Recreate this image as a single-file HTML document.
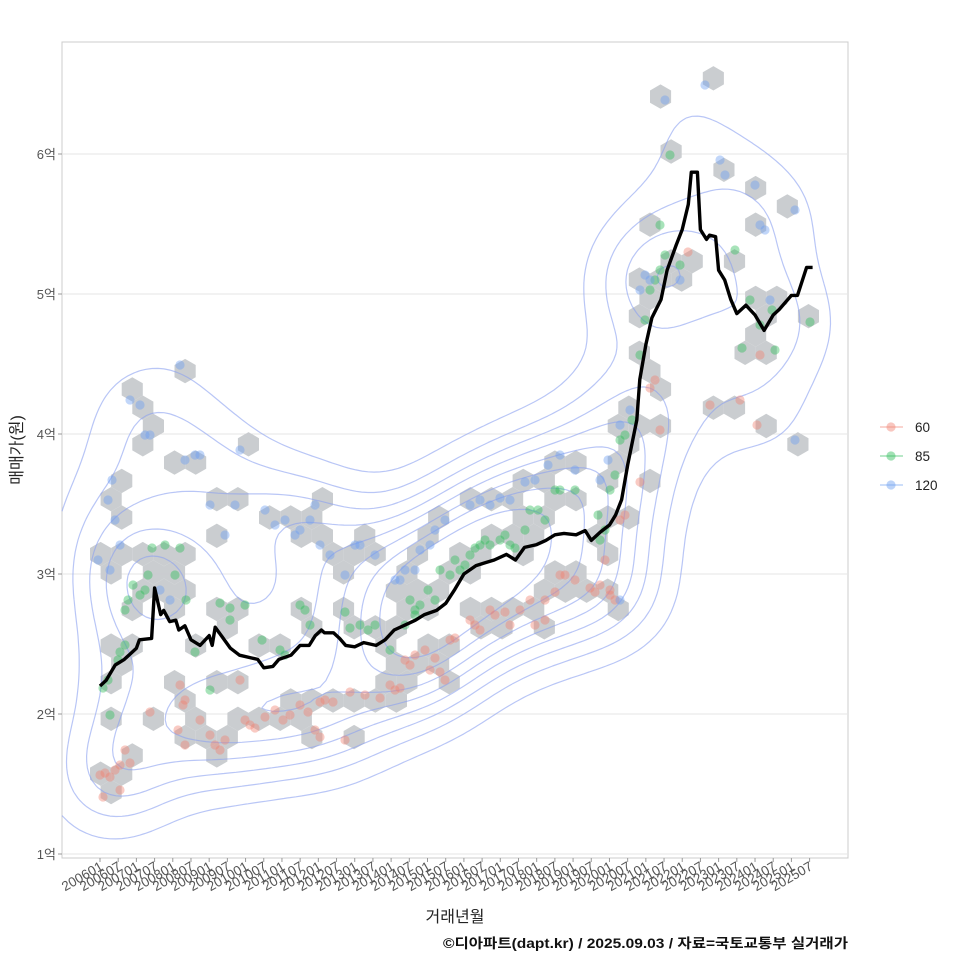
<!DOCTYPE html>
<html><head><meta charset="utf-8"><style>
html,body{margin:0;padding:0;background:#fff;}
svg{display:block;font-family:"Liberation Sans","Noto Sans CJK KR",sans-serif;}
</style></head><body>
<svg id="chart" width="960" height="960" viewBox="0 0 960 960">
<rect x="0" y="0" width="960" height="960" fill="#fff"/>
<rect x="62" y="42" width="786" height="816" fill="#fff" stroke="#cccccc" stroke-width="1"/>
<g id="grid"></g>
<g id="hexes"></g>
<g id="contours"></g>
<g id="points"></g>
<g id="line"></g>
<g id="yaxis"></g>
<g id="xaxis"></g>
<text x="22" y="450" transform="rotate(-90 22 450)" text-anchor="middle" font-size="16" fill="#222">매매가(원)</text>
<text x="455" y="922" text-anchor="middle" font-size="16" fill="#222">거래년월</text>
<text x="443" y="948" font-size="13.5" font-weight="bold" fill="#111" textLength="405" lengthAdjust="spacingAndGlyphs">©디아파트(dapt.kr) / 2025.09.03 / 자료=국토교통부 실거래가</text>
<g id="legend"></g>
</svg>
<script>
// ---- data ----
const yTicks = [1,2,3,4,5,6];
const yTickLabels = ["1억","2억","3억","4억","5억","6억"];
const xTickLabels = [];
for (let yr=2006; yr<=2025; yr++){ xTickLabels.push(yr+"01"); xTickLabels.push(yr+"07"); }
const lineMonths = [0,2,5,8,12,13,17,18,20,21,23,25,26,28,30,33,36,37,38,40,43,46,50,52,54,57,59,63,66,69,71,73,74,77,79,81,84,87,91,94,97,101,104,107,111,114,117,120,124,127,130,134,137,140,144,147,150,153,157,160,162,165,168,170,172,174,177,178,180,182,185,187,190,192,194,195,197,198,200,201,203,204,206,208,210,213,216,219,222,224,228,230,233,235];
const lineValues = [2.2,2.24,2.35,2.39,2.47,2.53,2.54,2.9,2.71,2.74,2.66,2.67,2.6,2.63,2.53,2.49,2.56,2.49,2.62,2.56,2.47,2.42,2.4,2.39,2.33,2.34,2.39,2.42,2.49,2.49,2.56,2.6,2.58,2.58,2.54,2.49,2.48,2.51,2.49,2.53,2.6,2.64,2.67,2.71,2.74,2.79,2.89,3.0,3.06,3.08,3.1,3.14,3.1,3.19,3.21,3.24,3.28,3.29,3.28,3.31,3.24,3.3,3.35,3.42,3.53,3.78,4.1,4.39,4.64,4.83,4.96,5.17,5.35,5.46,5.64,5.87,5.87,5.46,5.39,5.42,5.41,5.17,5.1,4.96,4.86,4.92,4.85,4.74,4.85,4.89,4.99,4.99,5.19,5.19];
const px60 = [[100,775],[105,773],[110,777],[115,770],[120,765],[125,750],[103,797],[120,790],[130,763],[150,712],[180,685],[185,700],[183,705],[185,745],[178,730],[200,720],[210,735],[215,745],[220,750],[225,740],[245,720],[250,725],[255,728],[240,680],[265,717],[275,710],[283,720],[290,715],[300,705],[308,712],[320,702],[325,700],[333,702],[315,730],[320,737],[345,740],[350,692],[365,695],[380,698],[390,685],[395,690],[400,688],[405,660],[410,665],[415,655],[425,650],[430,670],[435,658],[440,672],[450,640],[455,638],[445,680],[470,620],[475,625],[480,630],[490,610],[495,615],[505,612],[510,625],[520,610],[530,600],[535,625],[545,620],[545,600],[555,592],[560,575],[565,575],[575,580],[590,588],[595,592],[600,585],[605,560],[610,595],[615,600],[610,590],[620,520],[625,515],[640,482],[650,388],[655,380],[660,430],[688,252],[710,405],[740,400],[757,425],[760,355]];
const px85 = [[103,688],[108,680],[110,715],[118,660],[120,652],[125,645],[125,610],[128,600],[133,585],[140,595],[145,590],[148,575],[152,548],[165,545],[175,575],[180,548],[186,600],[195,652],[210,690],[220,603],[230,608],[245,605],[230,620],[262,640],[280,650],[285,655],[300,605],[305,610],[310,625],[345,612],[350,628],[360,625],[368,630],[375,625],[390,650],[405,625],[410,600],[415,610],[415,615],[420,605],[428,590],[435,600],[440,570],[450,575],[455,560],[460,570],[465,565],[470,555],[475,548],[480,545],[485,540],[490,545],[500,540],[505,535],[510,545],[515,548],[525,530],[530,510],[538,510],[545,520],[555,490],[560,490],[575,490],[598,515],[600,540],[605,530],[610,490],[615,475],[620,440],[625,435],[632,420],[640,355],[645,320],[650,290],[655,280],[660,270],[665,255],[670,155],[680,265],[735,250],[742,348],[750,300],[760,325],[772,310],[775,350],[810,322],[660,225]];
const px120 = [[98,560],[110,570],[115,520],[120,545],[112,480],[108,500],[130,400],[140,405],[145,435],[150,435],[160,590],[170,600],[180,365],[185,460],[195,455],[200,455],[210,505],[225,535],[235,505],[240,450],[265,510],[275,525],[285,520],[295,535],[300,530],[310,520],[315,505],[320,545],[330,555],[345,575],[355,545],[360,545],[375,555],[395,580],[400,580],[405,570],[415,570],[420,550],[430,545],[435,530],[445,520],[470,505],[480,500],[490,505],[500,498],[510,500],[525,482],[535,480],[548,465],[560,455],[575,470],[600,480],[608,460],[620,425],[630,410],[640,290],[645,275],[665,100],[680,280],[705,85],[720,160],[725,175],[755,185],[760,225],[765,230],[795,210],[795,440],[770,300],[620,600],[650,280]];

// ---- scales ----
const X0 = 100, DX = 3.0325;
const xs = m => X0 + m*DX;
const ys = v => 854 - (v-1)*140;
const toData = p => [(p[0]-X0)/DX, 1+(854-p[1])/140];
const series = [
  {name:"60", color:"#f08070", pts:px60.map(toData)},
  {name:"85", color:"#2ebd58", pts:px85.map(toData)},
  {name:"120", color:"#6b9df0", pts:px120.map(toData)}
];
const NS = "http://www.w3.org/2000/svg";
function mk(tag, attrs, parent){ const e=document.createElementNS(NS,tag); for(const k in attrs) e.setAttribute(k,attrs[k]); parent.appendChild(e); return e; }

// grid + y axis
const gGrid=document.getElementById('grid'), gY=document.getElementById('yaxis');
yTicks.forEach((t,i)=>{
  const l=mk('line',{x1:62,x2:848,y1:ys(t),y2:ys(t),stroke:'#e6e6e6','stroke-width':1},gGrid);
  
  
  const tk=mk('line',{x1:58,x2:62,y1:ys(t),y2:ys(t),stroke:'#999'},gY);
  
  
  const tx=mk('text',{x:56,y:ys(t)+5,'text-anchor':'end','font-size':13,fill:'#555'},gY);
  tx.textContent=yTickLabels[i];
  
  
});
// x axis
const gX=document.getElementById('xaxis');
xTickLabels.forEach((lab,i)=>{
  const x=xs(i*6);
  const tk=mk('line',{x1:x,x2:x,y1:858,y2:862,stroke:'#999'},gX);
  
  
  const tx=mk('text',{x:x+4,y:869,'text-anchor':'end','font-size':13.5,fill:'#555',transform:`rotate(-30 ${x+4} 869)`},gX);
  tx.textContent=lab;
  
  
});

// hexbins
const all=[]; series.forEach(s=>s.pts.forEach(p=>all.push([xs(p[0]),ys(p[1])])));
const R=12.2, HW=R*Math.sqrt(3), VH=R*1.5, HX0=90, HY0=60;
const bins={};
all.forEach(([x,y])=>{
  const r=Math.round((y-HY0)/VH);
  let best=null,bd=1e9;
  for(let rr=r-1; rr<=r+1; rr++){
    const off=(Math.abs(rr)%2)?HW/2:0;
    const c=Math.round((x-HX0-off)/HW);
    for(let cc=c-1;cc<=c+1;cc++){
      const cx=HX0+off+cc*HW, cy=HY0+rr*VH, d=(cx-x)**2+(cy-y)**2;
      if(d<bd){bd=d;best=[rr,cc,cx,cy];}
    }
  }
  const k=best[0]+','+best[1];
  if(!bins[k]) bins[k]={cx:best[2],cy:best[3],n:0};
  bins[k].n++;
});
const gH=document.getElementById('hexes');
Object.values(bins).forEach(b=>{
  let pts=[];
  for(let i=0;i<6;i++){const a=Math.PI/180*(60*i-90); pts.push((b.cx+R*Math.cos(a)).toFixed(1)+','+(b.cy+R*Math.sin(a)).toFixed(1));}
  const h=mk('polygon',{points:pts.join(' '),fill:b.n>=5?'#cdd9e4':'#c7cacd','fill-opacity':0.95},gH);
  
  
});

// KDE contours
(function(){
  const G=6, nx=Math.ceil(786/G)+1, ny=Math.ceil(816/G)+1, bx=46, by=44;
  const z=[]; let zmax=0;
  for(let j=0;j<ny;j++){ z.push([]); for(let i=0;i<nx;i++){
    const x=62+i*G, y=42+j*G; let s=0;
    for(const p of all){const dx=(x-p[0])/bx, dy=(y-p[1])/by; const q=dx*dx+dy*dy; if(q<16) s+=Math.exp(-0.5*q);}
    z[j].push(s); if(s>zmax) zmax=s; } }
  const gC=document.getElementById('contours');
  const levels=[0.12,0.22,0.32,0.42,0.52,0.62,0.72,0.82];
  levels.forEach(f=>{
    const L=f*zmax; let d='';
    for(let j=0;j<ny-1;j++){
      for(let i=0;i<nx-1;i++){
        const v=[z[j][i],z[j][i+1],z[j+1][i+1],z[j+1][i]];
        const P=[[i,j],[i+1,j],[i+1,j+1],[i,j+1]];
        const cr=[];
        for(let e=0;e<4;e++){const a=v[e],b=v[(e+1)%4]; if((a<L)!==(b<L)){const t=(L-a)/(b-a); const pa=P[e],pb=P[(e+1)%4]; cr.push([62+(pa[0]+t*(pb[0]-pa[0]))*G,42+(pa[1]+t*(pb[1]-pa[1]))*G]);}}
        for(let k=0;k+1<cr.length;k+=2) d+=`M${cr[k][0].toFixed(1)},${cr[k][1].toFixed(1)}L${cr[k+1][0].toFixed(1)},${cr[k+1][1].toFixed(1)}`;
      }
    }
    const p=mk('path',{d:d,fill:'none',stroke:'#8aa0f0','stroke-width':1.2,'stroke-opacity':0.6},gC);
    
    
  });
})();

// points
const gP=document.getElementById('points');
series.forEach(s=>s.pts.forEach(p=>{
  const c=mk('circle',{cx:xs(p[0]),cy:ys(p[1]),r:4.6,fill:s.color,'fill-opacity':0.42},gP);
  
  
}));

// line
const gL=document.getElementById('line');
const lp=mk('path',{d:lineMonths.map((m,i)=>(i?'L':'M')+xs(m).toFixed(1)+','+ys(lineValues[i]).toFixed(1)).join(''),fill:'none',stroke:'#000','stroke-width':3.4,'stroke-linejoin':'round'},gL);



// legend
const gLeg=document.getElementById('legend');
series.forEach((s,i)=>{
  const y=427+i*29;
  const g=mk('g',{},gLeg);
  
  
  mk('line',{x1:880,x2:903,y1:y,y2:y,stroke:s.color,'stroke-opacity':0.45,'stroke-width':1.5},g);
  mk('circle',{cx:891,cy:y,r:4.6,fill:s.color,'fill-opacity':0.45},g);
  const t=mk('text',{x:915,y:y+5,'font-size':13.5,fill:'#222'},g);
  t.textContent=s.name;
});
</script>
</body></html>
